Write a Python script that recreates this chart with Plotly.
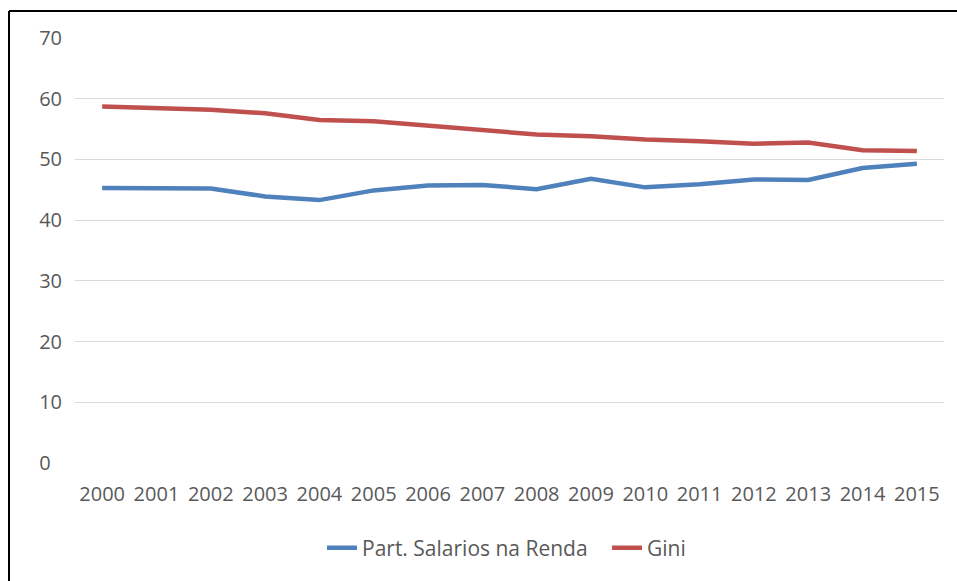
import plotly.graph_objects as go

years = [str(y) for y in range(2000, 2016)]
salarios = [45.3, 45.3, 45.2, 43.9, 43.3, 44.9, 45.7, 45.8, 45.1, 46.8, 45.4, 45.9, 46.7, 46.6, 48.6, 49.3]
gini = [58.7, 58.5, 58.2, 57.6, 56.5, 56.3, 55.6, 54.9, 54.1, 53.8, 53.3, 53.0, 52.6, 52.8, 51.5, 51.4]
y_ticks = [0, 10, 20, 30, 40, 50, 60, 70]
y_ticktext = ["0\u2007", "10", "20", "30", "40", "50", "60", "70"]

FONT = "Open Sans"
TXT = "#595959"
FS = 20

W, H = 957, 581
L, R, T, B = 75, 13, 38, 118
pw, ph = W - L - R, H - T - B

def px_x(p):
    return (p - L) / pw

def px_y(p):
    return (H - B - p) / ph

fig = go.Figure()
fig.add_trace(go.Scatter(x=years, y=salarios, mode="lines", name="Part. Salarios na Renda",
                         line=dict(color="#4f81bd", width=4.5)))
fig.add_trace(go.Scatter(x=years, y=gini, mode="lines", name="Gini",
                         line=dict(color="#c0504d", width=4.5)))

fig.update_layout(
    width=W, height=H,
    margin=dict(l=L, r=R, t=T, b=B),
    paper_bgcolor="white", plot_bgcolor="white",
    font=dict(family=FONT, size=FS, color=TXT),
    showlegend=True,
    legend=dict(orientation="h", x=px_x(322), xanchor="left", y=px_y(548), yanchor="middle",
                font=dict(family=FONT, size=21, color=TXT), itemwidth=30,
                entrywidth=240, traceorder="normal"),
    xaxis=dict(type="category", range=[-0.5, 15.5], showgrid=False, zeroline=False,
               showline=False, ticks="", tickfont=dict(family=FONT, size=FS, color=TXT),
               ticklabelstandoff=17, fixedrange=True),
    yaxis=dict(range=[0, 70], tickvals=y_ticks, ticktext=y_ticktext, showgrid=True,
               gridcolor="#d9d9d9", gridwidth=1.3, zeroline=False, showline=False, ticks="",
               tickfont=dict(family=FONT, size=FS, color=TXT), ticklabelstandoff=12,
               fixedrange=True),
    shapes=[
        dict(type="line", xref="paper", yref="paper",
             x0=px_x(9), x1=px_x(W), y0=px_y(11), y1=px_y(11),
             line=dict(color="black", width=2), layer="above"),
        dict(type="line", xref="paper", yref="paper",
             x0=px_x(9), x1=px_x(9), y0=px_y(11), y1=px_y(H),
             line=dict(color="black", width=2), layer="above"),
    ],
)

fig.write_html(
    "out.html",
    config={"displayModeBar": False},
    post_script="document.body.style.margin='0';document.body.style.overflow='hidden';",
)
